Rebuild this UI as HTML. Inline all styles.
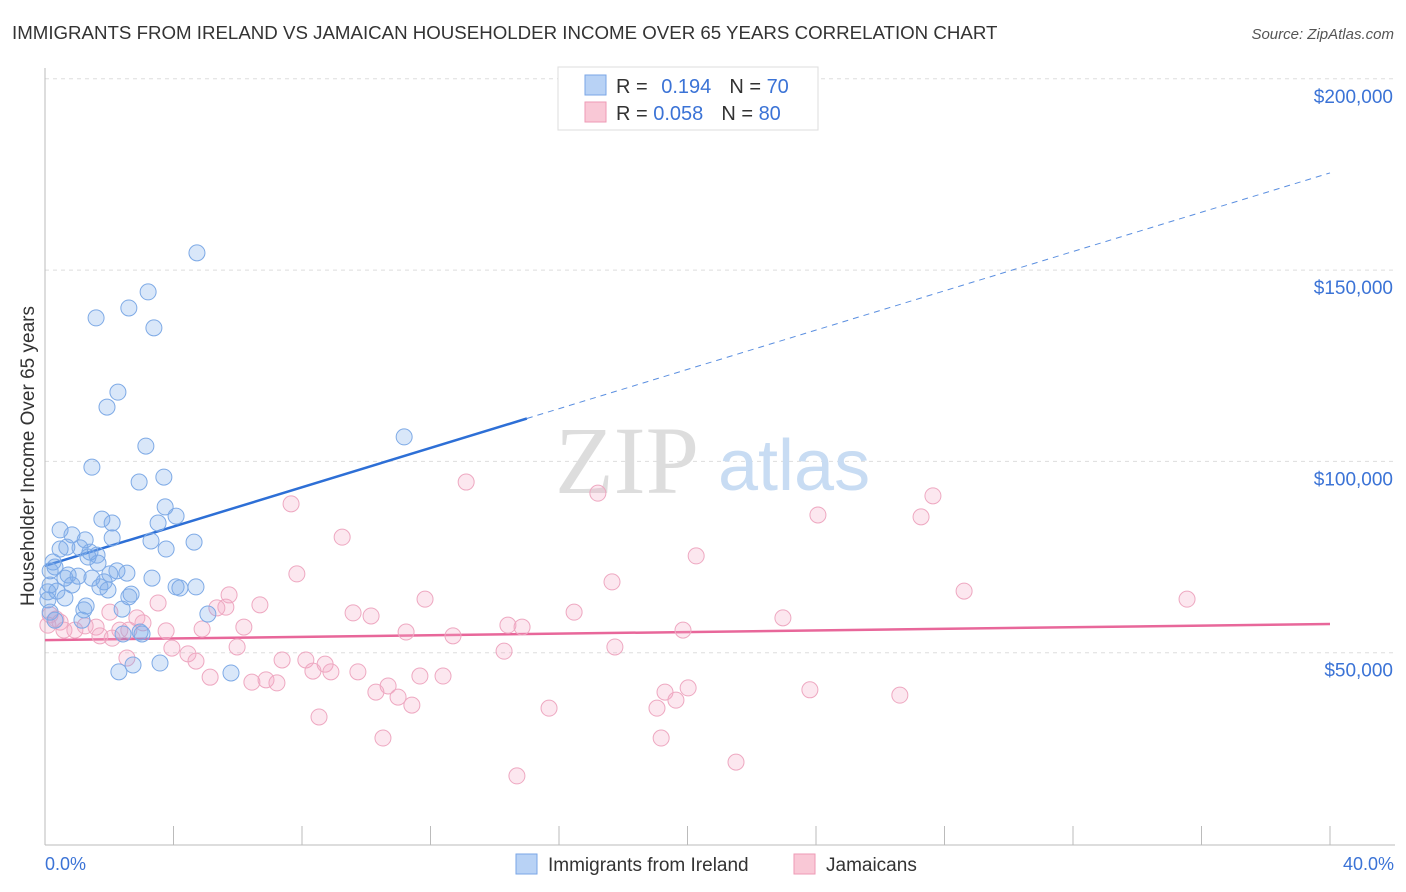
<!DOCTYPE html>
<html><head><meta charset="utf-8">
<style>
body{margin:0;background:#fff;font-family:"Liberation Sans",sans-serif;}
svg{display:block}
</style></head>
<body>
<svg id="chart" width="1406" height="892" viewBox="0 0 1406 892">
<text x="12" y="39" font-size="18.7" fill="#333">IMMIGRANTS FROM IRELAND VS JAMAICAN HOUSEHOLDER INCOME OVER 65 YEARS CORRELATION CHART</text>
<text x="1394" y="39" font-size="15" fill="#555" font-style="italic" text-anchor="end">Source: ZipAtlas.com</text>
<g id="grid"></g>
<g>
<text x="555" y="493" font-size="96" font-family="Liberation Serif,serif" fill="#ddd">ZIP</text>
<text x="718" y="490" font-size="72" fill="#c8dcf3">atlas</text>
</g>
<text transform="translate(34,456) rotate(-90)" font-size="19" fill="#333" text-anchor="middle">Householder Income Over 65 years</text>
<text x="45" y="870" font-size="18" fill="#3b73d6">0.0%</text>
<text x="1394" y="870" font-size="18" fill="#3b73d6" text-anchor="end">40.0%</text>
<g id="lines"></g>
<g id="points"></g>
<g>
<rect x="558" y="67" width="260" height="63" fill="#fff" stroke="#ddd"/>
<rect x="585" y="75" width="21" height="20" fill="#b8d2f5" stroke="#7aa6e6"/>
<rect x="585" y="102" width="21" height="20" fill="#f9c8d6" stroke="#ee9ab5"/>
<text x="616" y="93" font-size="20" fill="#333">R = <tspan fill="#3b73d6" dx="8">0.194</tspan><tspan dx="18">N = </tspan><tspan fill="#3b73d6">70</tspan></text>
<text x="616" y="120" font-size="20" fill="#333">R = <tspan fill="#3b73d6">0.058</tspan><tspan dx="18">N = </tspan><tspan fill="#3b73d6">80</tspan></text>
</g>
<g>
<rect x="516" y="854" width="21" height="20" fill="#b8d2f5" stroke="#7aa6e6"/>
<text x="548" y="871" font-size="19" fill="#333">Immigrants from Ireland</text>
<rect x="794" y="854" width="21" height="20" fill="#f9c8d6" stroke="#ee9ab5"/>
<text x="826" y="871" font-size="19" fill="#333">Jamaicans</text>
</g>
</svg>
<script>
const yTicks=[50,100,150,200];
const yTickLabels=["$50,000","$100,000","$150,000","$200,000"];
const xTicks=[0,4,8,12,16,20,24,28,32,36,40];
const irelandX=[4.73,3.21,1.59,2.61,3.39,2.27,1.93,3.14,1.46,3.70,2.93,3.74,4.08,1.77,2.09,3.52,0.47,0.84,2.09,1.25,3.30,4.64,3.77,0.47,0.68,1.09,1.40,1.62,1.34,0.25,0.31,0.16,0.72,1.03,0.62,2.24,2.55,3.33,1.84,1.71,4.08,4.70,4.20,2.68,2.61,0.09,0.62,1.28,2.40,5.07,1.15,0.16,0.31,3.02,2.43,2.74,3.58,2.30,5.79,11.18,0.37,0.84,1.96,1.65,0.16,0.09,1.21,2.96,2.02,1.46];
const irelandY=[154.5,144.3,137.5,140.1,134.9,118.1,114.2,104.0,98.5,95.9,94.6,88.1,85.7,84.9,83.9,83.9,82.1,80.8,80.0,79.5,79.2,78.9,77.1,77.1,77.6,77.4,76.3,75.5,75.0,73.7,72.4,71.4,70.3,70.0,69.5,71.4,70.8,69.5,68.5,67.2,67.2,67.2,66.9,65.3,64.6,63.8,64.3,62.2,61.4,60.1,58.5,60.6,58.5,54.9,54.9,46.8,47.3,45.0,44.7,106.4,66.1,67.7,66.4,73.4,67.7,65.9,61.2,55.4,70.6,69.5];
const jamX=[7.66,13.11,17.21,27.64,9.25,24.06,27.27,20.27,7.84,17.65,5.73,28.61,35.55,11.83,3.52,6.69,5.63,5.35,16.47,9.59,10.15,22.97,6.19,4.89,2.02,2.86,3.77,11.24,12.70,14.41,14.85,19.86,2.33,1.59,0.16,0.34,0.47,0.59,0.93,1.25,1.71,2.09,2.61,3.95,4.45,4.70,5.98,7.38,8.12,8.72,8.34,8.90,9.74,10.68,11.67,12.39,14.29,17.74,2.55,5.14,6.44,6.88,7.22,10.30,10.99,11.42,19.30,20.02,19.64,19.05,23.81,26.61,15.69,8.53,10.52,19.18,14.69,21.51,3.05,0.09];
const jamY=[88.9,94.6,91.7,91.0,80.2,86.0,85.5,75.3,70.6,68.5,65.1,66.1,64.0,64.0,63.0,62.5,61.9,61.7,60.6,60.4,59.6,59.1,56.7,56.2,60.6,59.1,55.7,55.4,54.4,57.2,56.7,55.9,55.9,56.7,59.9,58.8,58.0,55.9,55.9,57.0,54.4,53.8,55.9,51.2,49.7,47.8,51.5,48.1,48.1,47.0,45.2,45.0,45.0,41.3,43.9,43.9,50.4,51.5,48.6,43.6,42.3,42.9,42.1,39.7,38.4,36.3,39.7,40.8,37.6,35.5,40.3,38.9,35.5,33.2,27.7,27.7,17.8,21.4,57.8,57.2];
const irelandTrend=[72.7,175.4];
const jamTrend=[53.3,57.5];
const irelandSolidEnd=15;

const NS="http://www.w3.org/2000/svg";
const X=v=>45+v/40*1285;
const Y=v=>844-v/50*191.3;
function mk(tag,attrs,parent){const e=document.createElementNS(NS,tag);for(const k in attrs)e.setAttribute(k,attrs[k]);parent.appendChild(e);return e;}
const grid=document.getElementById('grid');
yTicks.forEach((t,i)=>{
 const l=mk('line',{x1:45,x2:1395,y1:Y(t),y2:Y(t),stroke:'#ddd','stroke-dasharray':'4,4'},grid);
 
 
 const tx=mk('text',{x:1393,y:Y(t)+24,'font-size':19,fill:'#3b73d6','text-anchor':'end'},grid);
 tx.textContent=yTickLabels[i];
 
 
});
const ya=mk('line',{x1:45,x2:45,y1:68,y2:845,stroke:'#bbb'},grid);


const xa=mk('line',{x1:45,x2:1395,y1:845,y2:845,stroke:'#bbb'},grid);


xTicks.forEach(t=>{
 const l=mk('line',{x1:X(t),x2:X(t),y1:826,y2:845,stroke:'#bbb'},grid);
 
 
});
const pts=document.getElementById('points');
jamX.forEach((x,i)=>{
 const c=mk('circle',{cx:X(x),cy:Y(jamY[i]),r:8,fill:'rgba(246,170,198,0.28)',stroke:'#eea8c1','stroke-width':1},pts);
 
 
});
irelandX.forEach((x,i)=>{
 const c=mk('circle',{cx:X(x),cy:Y(irelandY[i]),r:8,fill:'rgba(120,168,232,0.28)',stroke:'#7eaae6','stroke-width':1},pts);
 
 
});
const lines=document.getElementById('lines');
const bAt=v=>irelandTrend[0]+(irelandTrend[1]-irelandTrend[0])*v/40;
const b1=mk('line',{x1:X(0),y1:Y(irelandTrend[0]),x2:X(irelandSolidEnd),y2:Y(bAt(irelandSolidEnd)),stroke:'#2d6fd6','stroke-width':2.5},lines);


const b2=mk('line',{x1:X(irelandSolidEnd),y1:Y(bAt(irelandSolidEnd)),x2:X(40),y2:Y(irelandTrend[1]),stroke:'#5b8fe0','stroke-width':1,'stroke-dasharray':'6,5'},lines);


const p1=mk('line',{x1:X(0),y1:Y(jamTrend[0]),x2:X(40),y2:Y(jamTrend[1]),stroke:'#e8679a','stroke-width':2.5},lines);


</script>
</body></html>
